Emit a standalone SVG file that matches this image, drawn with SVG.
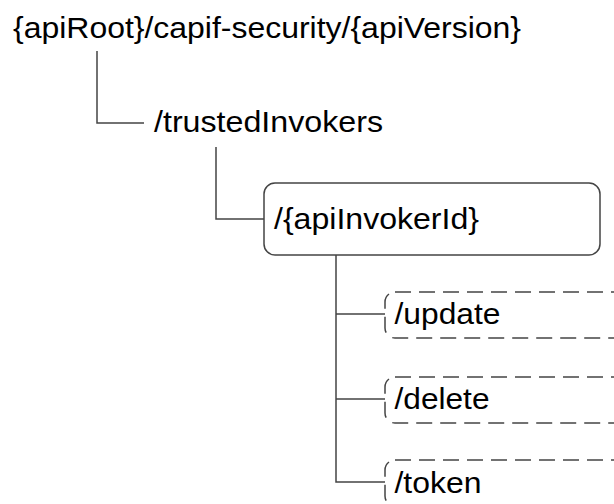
<svg xmlns="http://www.w3.org/2000/svg" width="614" height="504" viewBox="0 0 614 504">
<style>
text{font-family:"Liberation Sans",Arial,sans-serif;font-size:30px;fill:#000}
.c{fill:none;stroke:#444;stroke-width:1.5}
.n{fill:#fff;stroke:#444;stroke-width:1.5}
.d{fill:#fff;stroke:#444;stroke-width:1.5;stroke-dasharray:16 8}
</style>
<rect width="614" height="504" fill="#fff"/>
<g id="connectors">
<path class="c" d="M97,51V123H144"/>
<path class="c" d="M216,147V219H264"/>
<path class="c" d="M336,255V482H385M336,314H385M336,399H385"/>
</g>
<g id="root"><text x="13" y="37.5" textLength="508" lengthAdjust="spacingAndGlyphs">{apiRoot}/capif-security/{apiVersion}</text></g>
<g id="trustedInvokers"><text x="154" y="132" textLength="229" lengthAdjust="spacingAndGlyphs">/trustedInvokers</text></g>
<g id="apiInvokerId"><rect class="n" x="264" y="183" width="336" height="72" rx="11"/><text x="274" y="229" textLength="205" lengthAdjust="spacingAndGlyphs">/{apiInvokerId}</text></g>
<g id="update"><rect class="d" x="385" y="292" width="250" height="46" rx="10"/><text x="394.5" y="324" textLength="106" lengthAdjust="spacingAndGlyphs">/update</text></g>
<g id="delete"><rect class="d" x="385" y="377" width="250" height="46" rx="10"/><text x="394.5" y="408.5" textLength="95" lengthAdjust="spacingAndGlyphs">/delete</text></g>
<g id="token"><rect class="d" x="385" y="460" width="250" height="46" rx="10"/><text x="394.5" y="492.5" textLength="87" lengthAdjust="spacingAndGlyphs">/token</text></g>
</svg>
